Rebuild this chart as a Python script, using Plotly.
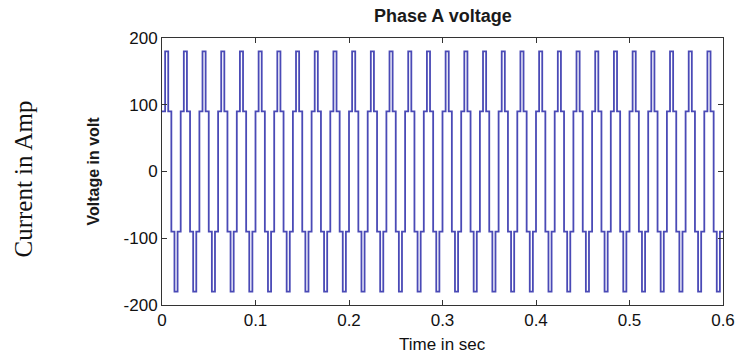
import plotly.graph_objects as go

# ---- data ----
# one period of the six-step phase voltage (levels in volt, each lasting 60 degrees)
step_levels = [90, 180, 90, -90, -180, -90]
period_s = 0.02          # 50 Hz
n_periods = 30           # 0 .. 0.6 s
x_ticks = [0, 0.1, 0.2, 0.3, 0.4, 0.5, 0.6]
x_tick_labels = ["0", "0.1", "0.2", "0.3", "0.4", "0.5", "0.6"]
y_ticks = [-200, -100, 0, 100, 200]
y_tick_labels = ["-200", "-100", "0", "100", "200"]

# build staircase from the repeated period
seg = period_s / len(step_levels)
t, v = [], []
for p in range(n_periods):
    for i, lv in enumerate(step_levels):
        t.append(round(p * period_s + i * seg, 6))
        v.append(lv)
t.append(n_periods * period_s)
v.append(step_levels[-1])

W, H = 741, 360
L, R, T, B = 162, 18, 38, 55
pw = W - L - R

fig = go.Figure()
fig.add_trace(go.Scatter(x=t, y=v, mode="lines", line_shape="hv",
                         line=dict(color="#4a4ab6", width=1.8),
                         showlegend=False, hoverinfo="skip"))

axis_common = dict(showgrid=False, zeroline=False, showline=True, linecolor="#333",
                   linewidth=1, mirror="ticks", ticks="inside", ticklen=5,
                   tickcolor="#333", automargin=False,
                   tickfont=dict(family="Liberation Sans, Arial", size=17, color="#111"))

fig.update_layout(
    width=W, height=H,
    margin=dict(l=L, r=R, t=T, b=B),
    paper_bgcolor="white", plot_bgcolor="white",
    xaxis=dict(range=[0, 0.6], tickvals=x_ticks, ticktext=x_tick_labels, **axis_common),
    yaxis=dict(range=[-200, 200], tickvals=y_ticks, ticktext=y_tick_labels, **axis_common),
    annotations=[
        dict(text="<b>Phase A voltage</b>", xref="paper", yref="paper",
             x=0.5, y=1, yshift=22, xanchor="center", yanchor="middle", showarrow=False,
             font=dict(family="Liberation Sans, Arial", size=18, color="#1a1a1a")),
        dict(text="Time in sec", xref="paper", yref="paper",
             x=0.5, y=0, yshift=-39, xanchor="center", yanchor="middle", showarrow=False,
             font=dict(family="Liberation Sans, Arial", size=17, color="#111")),
        dict(text="<b>Voltage in volt</b>", xref="paper", yref="paper",
             x=(93 - L) / pw, y=0.5, xanchor="center", yanchor="middle", showarrow=False,
             textangle=-90,
             font=dict(family="Liberation Sans, Arial", size=16, color="#1a1a1a")),
        dict(text="Current in Amp", xref="paper", yref="paper",
             x=(24 - L) / pw, y=0.47, xanchor="center", yanchor="middle", showarrow=False,
             textangle=-90,
             font=dict(family="Liberation Serif, Times New Roman", size=25, color="#111")),
    ],
)

fig.write_html("out.html", config={"displayModeBar": False},
               post_script="document.body.style.margin='0';document.body.style.overflow='hidden';")
